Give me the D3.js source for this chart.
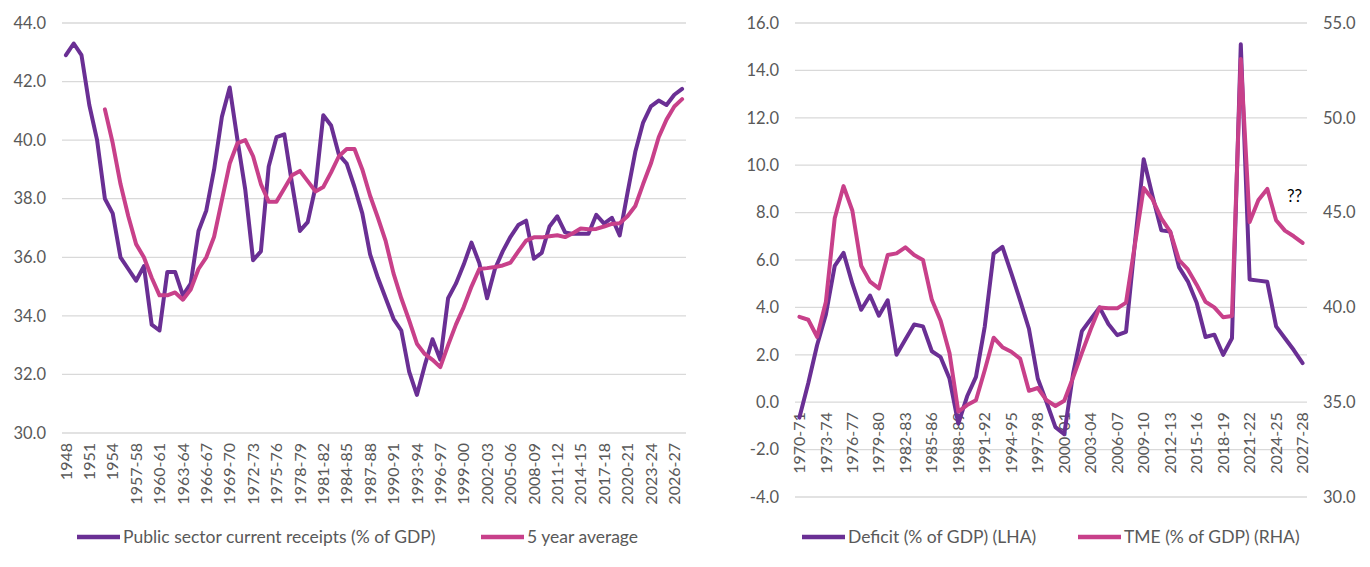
<!DOCTYPE html>
<html>
<head>
<meta charset="utf-8">
<script src="https://cdn.jsdelivr.net/npm/d3@7"></script>
<style>
  body { margin: 0; background: #fff; }
  svg { display: block; }
  text { font-family: "Lato", "Open Sans", sans-serif; fill: #595959; }
</style>
</head>
<body>
<script>
// ---- data: left chart (receipts) ----
const receiptYears = [
  "1948", "1949", "1950", "1951", "1952", "1953", "1954", "1955", "1956-57", "1957-58",
  "1958-59", "1959-60", "1960-61", "1961-62", "1962-63", "1963-64", "1964-65", "1965-66", "1966-67", "1967-68",
  "1968-69", "1969-70", "1970-71", "1971-72", "1972-73", "1973-74", "1974-75", "1975-76", "1976-77", "1977-78",
  "1978-79", "1979-80", "1980-81", "1981-82", "1982-83", "1983-84", "1984-85", "1985-86", "1986-87", "1987-88",
  "1988-89", "1989-90", "1990-91", "1991-92", "1992-93", "1993-94", "1994-95", "1995-96", "1996-97", "1997-98",
  "1998-99", "1999-00", "2000-01", "2001-02", "2002-03", "2003-04", "2004-05", "2005-06", "2006-07", "2007-08",
  "2008-09", "2009-10", "2010-11", "2011-12", "2012-13", "2013-14", "2014-15", "2015-16", "2016-17", "2017-18",
  "2018-19", "2019-20", "2020-21", "2021-22", "2022-23", "2023-24", "2024-25", "2025-26", "2026-27", "2027-28"
];
const receipts = [
  42.9, 43.3, 42.9, 41.2, 40.0, 38.0, 37.5, 36.0, 35.6, 35.2,
  35.7, 33.7, 33.5, 35.5, 35.5, 34.7, 35.1, 36.9, 37.6, 39.0,
  40.8, 41.8, 40.0, 38.3, 35.9, 36.2, 39.1, 40.1, 40.2, 38.5,
  36.9, 37.2, 38.4, 40.85, 40.5, 39.5, 39.2, 38.4, 37.5, 36.1,
  35.3, 34.6, 33.9, 33.5, 32.1, 31.3, 32.3, 33.2, 32.5, 34.6,
  35.1, 35.75, 36.5, 35.8, 34.6, 35.6, 36.2, 36.7, 37.1, 37.25,
  35.95, 36.15, 37.05, 37.4, 36.85, 36.8, 36.8, 36.8, 37.45, 37.15,
  37.35, 36.75, 38.2, 39.6, 40.6, 41.15, 41.35, 41.2, 41.55, 41.75
];
const fiveYearAvg = [
  null, null, null, null, null, 41.05, 39.9, 38.5, 37.4, 36.45,
  36.0, 35.3, 34.7, 34.7, 34.8, 34.55, 34.9, 35.6, 36.0, 36.7,
  37.95, 39.2, 39.9, 40.0, 39.45, 38.5, 37.9, 37.9, 38.35, 38.8,
  38.95, 38.6, 38.25, 38.4, 38.9, 39.45, 39.7, 39.7, 39.0, 38.1,
  37.35, 36.55, 35.45, 34.6, 33.85, 33.05, 32.7, 32.5, 32.25, 33.0,
  33.7, 34.3, 35.0, 35.6, 35.63, 35.67, 35.72, 35.82, 36.2, 36.57,
  36.68, 36.68, 36.72, 36.75, 36.69, 36.82, 36.98, 36.96, 36.97, 37.05,
  37.14, 37.16, 37.4, 37.75, 38.5, 39.2, 40.1, 40.7, 41.15, 41.4
];
const receiptTicks = [30, 32, 34, 36, 38, 40, 42, 44];

// ---- data: right chart (deficit / TME) ----
const fiscalYears = [
  "1970-71", "1971-72", "1972-73", "1973-74", "1974-75", "1975-76", "1976-77", "1977-78", "1978-79", "1979-80",
  "1980-81", "1981-82", "1982-83", "1983-84", "1984-85", "1985-86", "1986-87", "1987-88", "1988-89", "1989-90",
  "1990-91", "1991-92", "1992-93", "1993-94", "1994-95", "1995-96", "1996-97", "1997-98", "1998-99", "1999-00",
  "2000-01", "2001-02", "2002-03", "2003-04", "2004-05", "2005-06", "2006-07", "2007-08", "2008-09", "2009-10",
  "2010-11", "2011-12", "2012-13", "2013-14", "2014-15", "2015-16", "2016-17", "2017-18", "2018-19", "2019-20",
  "2020-21", "2021-22", "2022-23", "2023-24", "2024-25", "2025-26", "2026-27", "2027-28"
];
const deficit = [
  -0.65, 0.8, 2.4, 3.7, 5.75, 6.3, 5.0, 3.9, 4.5, 3.65,
  4.3, 2.0, 2.65, 3.28, 3.2, 2.15, 1.9, 1.0, -0.9, 0.25,
  1.07, 3.2, 6.27, 6.55, 5.45, 4.3, 3.1, 1.0, 0.0, -1.05,
  -1.35, 1.2, 3.0, 3.5, 4.0, 3.3, 2.83, 2.97, 6.7, 10.25,
  8.7, 7.25, 7.2, 5.7, 5.1, 4.2, 2.75, 2.85, 2.0, 2.7,
  15.1, 5.18, 5.13, 5.08, 3.2, 2.7, 2.2, 1.65
];
const tme = [
  39.5, 39.35, 38.45, 40.3, 44.7, 46.4, 45.1, 42.2, 41.36, 41.0,
  42.76, 42.85, 43.17, 42.76, 42.5, 40.4, 39.3, 37.6, 34.5, 34.85,
  35.1, 36.7, 38.4, 37.9, 37.66, 37.3, 35.6, 35.75, 35.1, 34.8,
  35.08, 36.3, 37.6, 38.85, 40.0, 39.95, 39.95, 40.25, 43.3, 46.3,
  45.7, 44.7, 44.0, 42.5, 42.0, 41.2, 40.3, 40.0, 39.48, 39.55,
  53.1, 44.5, 45.66, 46.25, 44.6, 44.05, 43.75, 43.4
];
const deficitTicks = [-4, -2, 0, 2, 4, 6, 8, 10, 12, 14, 16];
const tmeTicks = [30, 35, 40, 45, 50, 55];

const purple = "#6a2f94";
const pink = "#c8408a";
const gridColor = "#d9d9d9";
const tickFont = 16.5;
const catFont = 16;
const legendFont = 17.5;

const svg = d3.select("body")
    .append("svg")
    .attr("width", 1370)
    .attr("height", 567);

// draws one line series from an array of values
function drawLine(g, x, y, cats, values, color) {
    const line = d3.line()
        .defined(d => d[1] != null)
        .x(d => x(d[0]))
        .y(d => y(d[1]));
    g.append("path")
        .datum(cats.map((c, i) => [c, values[i]]))
        .attr("fill", "none")
        .attr("stroke", color)
        .attr("stroke-width", 4)
        .attr("stroke-linejoin", "round")
        .attr("stroke-linecap", "round")
        .attr("d", line);
}

function drawGrid(g, y, ticks, x0, x1) {
    g.selectAll(null)
        .data(ticks)
        .enter()
        .append("line")
        .attr("x1", x0)
        .attr("x2", x1)
        .attr("y1", d => y(d))
        .attr("y2", d => y(d))
        .attr("stroke", gridColor)
        .attr("stroke-width", 1.3);
}

// rotated category labels, every third one
function drawCatLabels(g, x, cats, top) {
    g.selectAll(null)
        .data(cats.filter((_, i) => i % 3 === 0))
        .enter()
        .append("text")
        .attr("transform", d => `translate(${x(d)},${top}) rotate(-90)`)
        .attr("text-anchor", "end")
        .attr("dy", "0.35em")
        .attr("font-size", catFont)
        .text(d => d);
}

function drawLegendItem(g, x, y, color, label) {
    g.append("line")
        .attr("x1", x)
        .attr("x2", x + 43)
        .attr("y1", y)
        .attr("y2", y)
        .attr("stroke", color)
        .attr("stroke-width", 4.5);
    g.append("text")
        .attr("x", x + 46)
        .attr("y", y)
        .attr("dy", "0.35em")
        .attr("font-size", legendFont)
        .text(label);
}

// ---- left chart ----
const left = svg.append("g").attr("id", "receiptsChart");
const xL = d3.scalePoint().domain(receiptYears).range([62, 686]).padding(0.5);
const yL = d3.scaleLinear().domain([30, 44]).range([433, 23]);

drawGrid(left, yL, receiptTicks, 62, 686);

left.selectAll(null)
    .data(receiptTicks)
    .enter()
    .append("text")
    .attr("x", 46)
    .attr("y", d => yL(d))
    .attr("dy", "0.35em")
    .attr("text-anchor", "end")
    .attr("font-size", tickFont)
    .text(d => d3.format(".1f")(d));

drawCatLabels(left, xL, receiptYears, 443);
drawLine(left, xL, yL, receiptYears, receipts, purple);
drawLine(left, xL, yL, receiptYears, fiveYearAvg, pink);

drawLegendItem(left, 77, 537, purple, "Public sector current receipts (% of GDP)");
drawLegendItem(left, 481, 537, pink, "5 year average");

// ---- right chart ----
const right = svg.append("g").attr("id", "deficitChart");
const xR = d3.scalePoint().domain(fiscalYears).range([795, 1307]).padding(0.5);
const yR = d3.scaleLinear().domain([-4, 16]).range([497, 23]);
const yR2 = d3.scaleLinear().domain([30, 55]).range([497, 23]);

drawGrid(right, yR, deficitTicks, 795, 1307);

right.selectAll(null)
    .data(deficitTicks)
    .enter()
    .append("text")
    .attr("x", 779)
    .attr("y", d => yR(d))
    .attr("dy", "0.35em")
    .attr("text-anchor", "end")
    .attr("font-size", tickFont)
    .text(d => d3.format(".1f")(d).replace("\u2212", "-"));

right.selectAll(null)
    .data(tmeTicks)
    .enter()
    .append("text")
    .attr("x", 1323)
    .attr("y", d => yR2(d))
    .attr("dy", "0.35em")
    .attr("font-size", tickFont)
    .text(d => d3.format(".1f")(d));

drawCatLabels(right, xR, fiscalYears, yR(0) + 10);
drawLine(right, xR, yR, fiscalYears, deficit, purple);
drawLine(right, xR, yR2, fiscalYears, tme, pink);

right.append("text")
    .attr("x", 1287)
    .attr("y", 202)
    .attr("font-size", 17)
    .style("fill", "#000")
    .text("??");

drawLegendItem(right, 802, 537, purple, "Deficit (% of GDP) (LHA)");
drawLegendItem(right, 1078, 537, pink, "TME (% of GDP) (RHA)");
</script>
</body>
</html>
